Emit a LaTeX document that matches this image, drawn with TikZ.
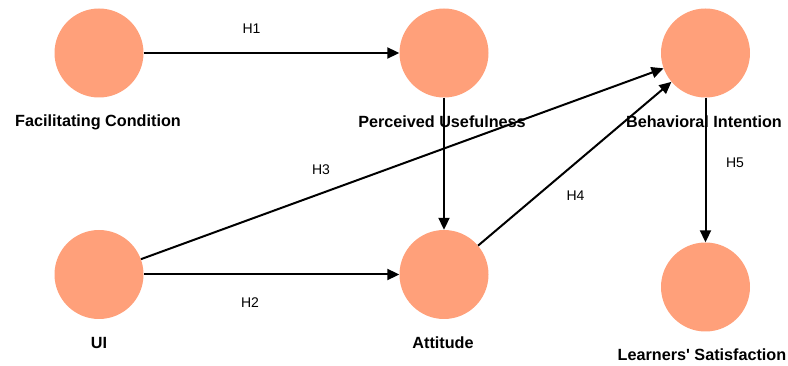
\documentclass[tikz,border=0pt]{standalone}
\usepackage{fontspec}
\setmainfont{Liberation Sans}
\usetikzlibrary{arrows.meta}
\definecolor{salmonfill}{RGB}{255,160,122}
\tikzset{
  construct/.style={circle, fill=salmonfill, draw=none, minimum size=89pt, inner sep=0pt},
  clabel/.style={font=\fontsize{16.2}{19}\selectfont\bfseries, inner sep=0pt, anchor=center},
  hlabel/.style={font=\fontsize{14}{17}\selectfont, inner sep=0pt, anchor=center},
  link/.style={line width=2pt, -{Triangle[length=12pt,width=11pt]}}
}
\begin{document}
\begin{tikzpicture}[x=1pt,y=-1pt]
\useasboundingbox (0,0) rectangle (788,366);
% constructs
\node[construct] (fc) at (99,53) {};
\node[construct] (pu) at (444,53) {};
\node[construct] (bi) at (705.5,53) {};
\node[construct] (ui) at (99,274.5) {};
\node[construct] (at) at (444,274.5) {};
\node[construct] (ls) at (705.5,287) {};
% construct labels
\node[clabel] (fcl) at (98,122) {Facilitating Condition};
\node[clabel] (pul) at (442,122) {Perceived Usefulness};
\node[clabel] (bil) at (704,122) {Behavioral Intention};
\node[clabel] (uil) at (99,343) {UI};
\node[clabel] (atl) at (443,343) {Attitude};
\node[clabel] (lsl) at (702,355) {Learners\textquotesingle{} Satisfaction};
% paths
\draw[link] (fc) -- (pu);
\draw[link] (ui) -- (at);
\draw[link] (pu) -- (at);
\draw[link] (ui) -- (bi);
\draw[link] (at) -- (bi);
\draw[link] (bi) -- (ls);
% hypothesis labels
\node[hlabel] (h1) at (251.5,29) {H1};
\node[hlabel] (h2) at (250,303) {H2};
\node[hlabel] (h3) at (321,170) {H3};
\node[hlabel] (h4) at (575.5,196) {H4};
\node[hlabel] (h5) at (735,163) {H5};
\end{tikzpicture}
\end{document}
